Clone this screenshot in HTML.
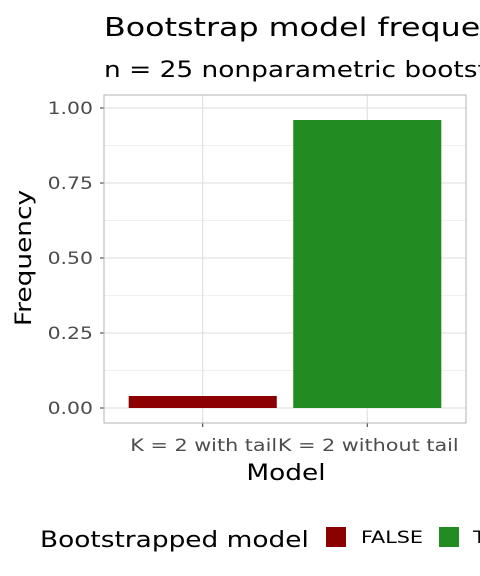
<!DOCTYPE html>
<html><head><meta charset="utf-8"><style>
html,body{margin:0;padding:0;background:#fff;overflow:hidden;}
svg{display:block;font-family:"DejaVu Sans","Liberation Sans",sans-serif;}
</style></head><body>
<svg id="chart" width="480" height="576" viewBox="0 0 480 576">
<text transform="translate(104,36) scale(1.22,1)" font-size="26" fill="#000">Bootstrap model frequency</text>
<text transform="translate(104,77) scale(1.2,1)" font-size="22" fill="#000">n = 25 nonparametric bootstrap samples</text>
<g id="panel"></g>
<text transform="translate(31,258) rotate(-90) scale(1.2,1)" text-anchor="middle" font-size="22" fill="#000">Frequency</text>
<text transform="translate(286,480) scale(1.2,1)" text-anchor="middle" font-size="22" fill="#000">Model</text>
<g>
<text transform="translate(40,547) scale(1.2,1)" font-size="22" fill="#000">Bootstrapped model</text>
<rect x="326" y="527" width="20" height="20" fill="#8B0000"/>
<text transform="translate(361,543) scale(1.22,1)" font-size="17" fill="#000">FALSE</text>
<rect x="439" y="527" width="20" height="20" fill="#228B22"/>
<text transform="translate(473,543) scale(1.22,1)" font-size="17" fill="#000">TRUE</text>
</g>
</svg>
<script>
const categories = ["K = 2 with tail", "K = 2 without tail"];
const values = [0.04, 0.96];
const colors = ["#8B0000", "#228B22"];
const yTicks = [0, 0.25, 0.5, 0.75, 1];
const yTickLabels = ["0.00", "0.25", "0.50", "0.75", "1.00"];

const NS = "http://www.w3.org/2000/svg";
const panel = document.getElementById("panel");
const L = 104, R = 466, T = 95, B = 423;
const band = (R - L) / (categories.length + 0.2);
const xc = i => L + band * 0.6 + band * i;
const y = v => 408 - v * 300;
function mk(tag, attrs, parent) {
  const e = document.createElementNS(NS, tag);
  for (const k in attrs) e.setAttribute(k, attrs[k]);
  (parent || panel).appendChild(e);
  return e;
}
for (let i = 0; i < yTicks.length - 1; i++) {
  const g = mk("line", {x1: L, x2: R, y1: y((yTicks[i] + yTicks[i+1]) / 2), y2: y((yTicks[i] + yTicks[i+1]) / 2), stroke: "#ebebeb", "stroke-width": 0.8});
  
  
}
yTicks.forEach((t, i) => {
  const g = mk("line", {x1: L, x2: R, y1: y(t), y2: y(t), stroke: "#dedede", "stroke-width": 1.1});
  
  
  const tk = mk("line", {x1: L - 4, x2: L, y1: y(t), y2: y(t), stroke: "#333", "stroke-width": 1});
  
  
  const lb = mk("text", {transform: "translate(" + (L - 11) + "," + (y(t) + 6) + ") scale(1.2,1)", "text-anchor": "end", "font-size": 17, fill: "#4d4d4d"});
  lb.textContent = yTickLabels[i];
  
  
});
categories.forEach((c, i) => {
  const g = mk("line", {x1: xc(i), x2: xc(i), y1: T, y2: B, stroke: "#dedede", "stroke-width": 1.1});
  
  
});
categories.forEach((c, i) => {
  const w = band * 0.9;
  const r = mk("rect", {x: xc(i) - w / 2, y: y(values[i]), width: w, height: y(0) - y(values[i]), fill: colors[i]});
  
  
  const tk = mk("line", {x1: xc(i), x2: xc(i), y1: B, y2: B + 4, stroke: "#333", "stroke-width": 1});
  
  
  const lb = mk("text", {transform: "translate(" + (xc(i) + 1) + "," + (B + 28) + ") scale(1.22,1)", "text-anchor": "middle", "font-size": 17, fill: "#4d4d4d"});
  lb.textContent = c;
  
  
});
const border = mk("rect", {x: L, y: T, width: R - L, height: B - T, fill: "none", stroke: "#b3b3b3", "stroke-width": 1});


</script>
</body></html>
